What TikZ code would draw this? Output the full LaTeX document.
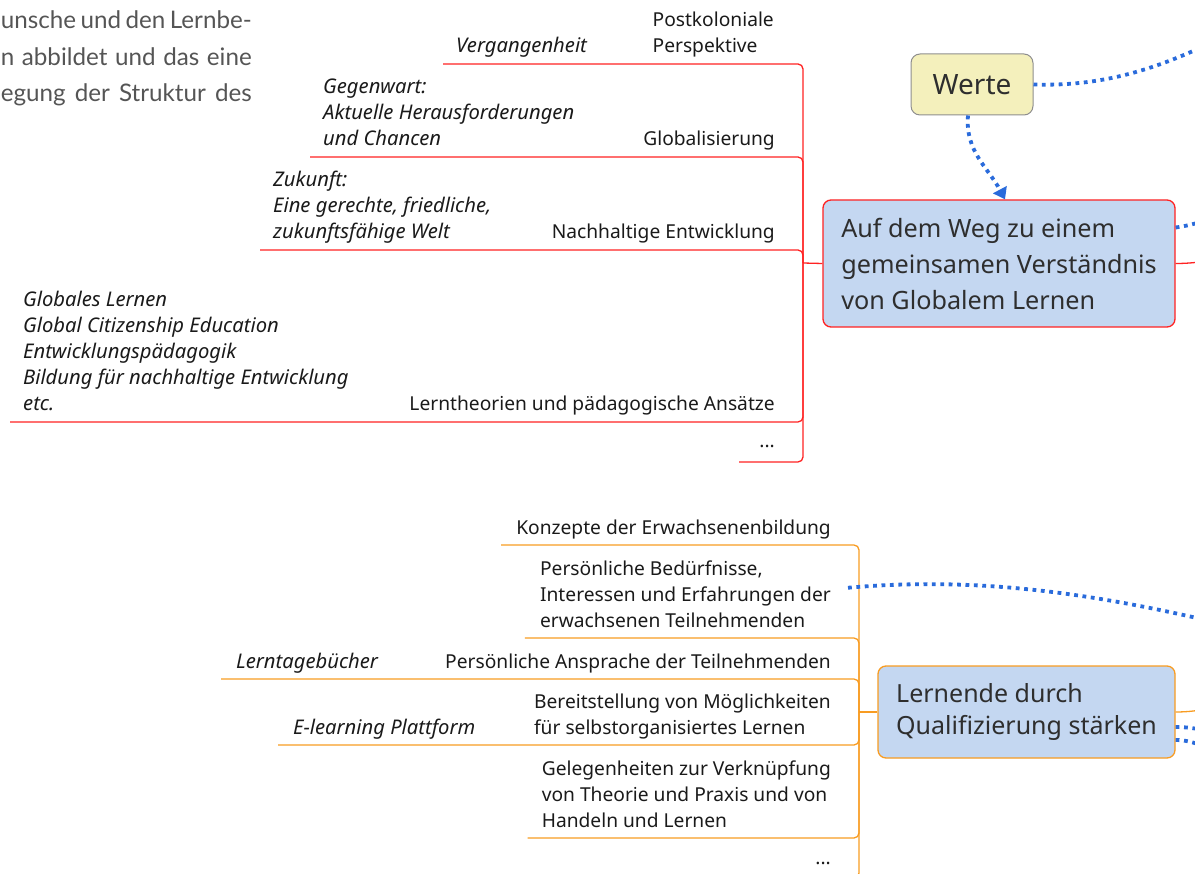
\documentclass[tikz,border=0pt]{standalone}
\usepackage{fontspec}
\setmainfont{Noto Sans}
\newfontfamily\introfont{Lato}
\usetikzlibrary{arrows.meta,positioning}
\definecolor{ink}{HTML}{2E2E2E}
\definecolor{labink}{HTML}{1A1A1A}
\definecolor{introgray}{HTML}{555555}
\definecolor{topicred}{HTML}{FF2222}
\definecolor{topicorange}{HTML}{F89C22}
\definecolor{topicfill}{HTML}{C4D7F1}
\definecolor{wertefill}{HTML}{F4F0BC}
\definecolor{wertedraw}{HTML}{8E8E8E}
\definecolor{relblue}{HTML}{2A6BDB}
\newcommand{\introline}[1]{\makebox[251pt][s]{#1}}

\tikzset{
 lab/.style={inner sep=0pt,text=labink,font=\fontsize{19.2}{26}\selectfont},
 mainlab/.style={lab,align=left,anchor=base east},
 sublab/.style={lab,align=left,anchor=base west,font=\fontsize{20.2}{26}\selectfont\itshape},
 rline/.style={draw=topicred,line width=1.3pt,rounded corners=5pt},
 oline/.style={draw=topicorange,line width=1.3pt,rounded corners=5pt},
 topic/.style={rounded corners=8pt,fill=topicfill,line width=1.3pt,text=ink,align=left},
 rel/.style={relblue,line width=3.8pt,dash pattern=on 3.8pt off 4.6pt},
}

\begin{document}
\begin{tikzpicture}[x=1pt,y=-1pt,>=Stealth]
\useasboundingbox (0,0) rectangle (1195,874);
\clip (0,0) rectangle (1195,874);
% text of the page behind
\node[inner sep=0pt,anchor=base east,align=right,text=introgray,font=\introfont\fontsize{24.2}{36.5}\selectfont] (intro) at (252,102) {\introline{unsche und den Lernbe-}\\\introline{n abbildet und das eine}\\\introline{egung der Struktur des}};
% central topics
\node[topic,draw=topicred,minimum width=352pt,minimum height=127pt,font=\fontsize{25.2}{36}\selectfont] (weg) at (999,263.5) {Auf dem Weg zu einem\\gemeinsamen Verständnis\\von Globalem Lernen};
\node[topic,draw=topicorange,minimum width=297pt,minimum height=92pt,font=\fontsize{25}{32}\selectfont] (lernende) at (1026.5,712) {Lernende durch\\Qualifizierung stärken};
\node[rounded corners=9pt,fill=wertefill,draw=wertedraw,line width=1pt,minimum width=122pt,minimum height=61pt,text=ink,font=\fontsize{28}{30}\selectfont] (werte) at (972,84.5) {Werte};
% red branches
\coordinate (rhub) at (803,263);
\node[mainlab] (post) at (774,53) {Postkoloniale\\Perspektive};
\node[sublab] (verg) at (456,53) {Vergangenheit};
\node[mainlab] (glob) at (775,146) {Globalisierung};
\node[sublab] (gegen) at (323,146) {Gegenwart:\\Aktuelle Herausforderungen\\und Chancen};
\node[mainlab] (nachh) at (775,239) {Nachhaltige Entwicklung};
\node[sublab] (zuk) at (273,239) {Zukunft:\\Eine gerechte, friedliche,\\zukunftsfähige Welt};
\node[mainlab] (lernth) at (775,411) {Lerntheorien und pädagogische Ansätze};
\node[sublab] (ansatz) at (23,411) {Globales Lernen\\Global Citizenship Education\\Entwicklungspädagogik\\Bildung für nachhaltige Entwicklung\\etc.};
\node[mainlab] (rdots) at (775,448) {...};
\draw[rline] (verg.base west) ++(-13,11) -| (rhub);
\draw[rline] (gegen.base west) ++(-13,11) -| (rhub);
\draw[rline] (zuk.base west) ++(-13,11) -| (rhub);
\draw[rline] (ansatz.base west) ++(-13,11) -| (rhub);
\draw[rline] (rdots.base west) ++(-20,14) -| (rhub);
\draw[rline] (rhub) -- (weg.west);
% orange branches
\coordinate (ohub) at (859,712);
\node[mainlab] (konz) at (831,534) {Konzepte der Erwachsenenbildung};
\node[mainlab] (bed) at (831,627) {Persönliche Bedürfnisse,\\Interessen und Erfahrungen der\\erwachsenen Teilnehmenden};
\node[mainlab] (anspr) at (831,668) {Persönliche Ansprache der Teilnehmenden};
\node[sublab] (lern) at (236,668) {Lerntagebücher};
\node[mainlab] (bereit) at (831,734) {Bereitstellung von Möglichkeiten\\für selbstorganisiertes Lernen};
\node[sublab] (elearn) at (293,734) {E-learning Plattform};
\node[mainlab] (geleg) at (831,827) {Gelegenheiten zur Verknüpfung\\von Theorie und Praxis und von\\Handeln und Lernen};
\node[mainlab] (odots) at (831,864) {...};
\draw[oline] (konz.base west) ++(-15,11) -| (ohub);
\draw[oline] (bed.base west) ++(-15,11) -| (ohub);
\draw[oline] (lern.base west) ++(-15,11) -| (ohub);
\draw[oline] (elearn.base west) ++(-15,11) -| (ohub);
\draw[oline] (geleg.base west) ++(-14,11) -| (ohub);
\draw[oline] (odots.base west) ++(-20,14) -| (ohub);
\draw[oline] (ohub) -- (lernende.west);
% leaving to the right
\coordinate (rout) at (1230,259);
\coordinate (oout) at (1230,706);
\draw[rline] (weg.east) to[out=0,in=183] (rout);
\draw[oline] (lernende.east) to[out=0,in=185] (oout);
% relationships
\coordinate (wout) at (1240,28);
\coordinate (wegout) at (1230,214);
\coordinate (bedout) at (1235,627);
\coordinate (lout1) at (1230,732);
\coordinate (lout2) at (1230,750);
\draw[rel,-{Triangle[width=15pt,length=11pt]}] ([xshift=-4pt]werte.south) to[out=-95,in=118] ([xshift=6pt]weg.north);
\draw[rel] (werte.east) .. controls (1110,87) and (1170,65) .. (wout);
\draw[rel] ([yshift=36pt]weg.east) to[out=8,in=192] (wegout);
\draw[rel] ([xshift=17pt,yshift=6pt]bed.east) .. controls (980,576) and (1100,594) .. (bedout);
\draw[rel] ([yshift=-15pt]lernende.east) to[out=0,in=182] (lout1);
\draw[rel] ([yshift=-28pt]lernende.east) to[out=0,in=185] (lout2);
\end{tikzpicture}
\end{document}
